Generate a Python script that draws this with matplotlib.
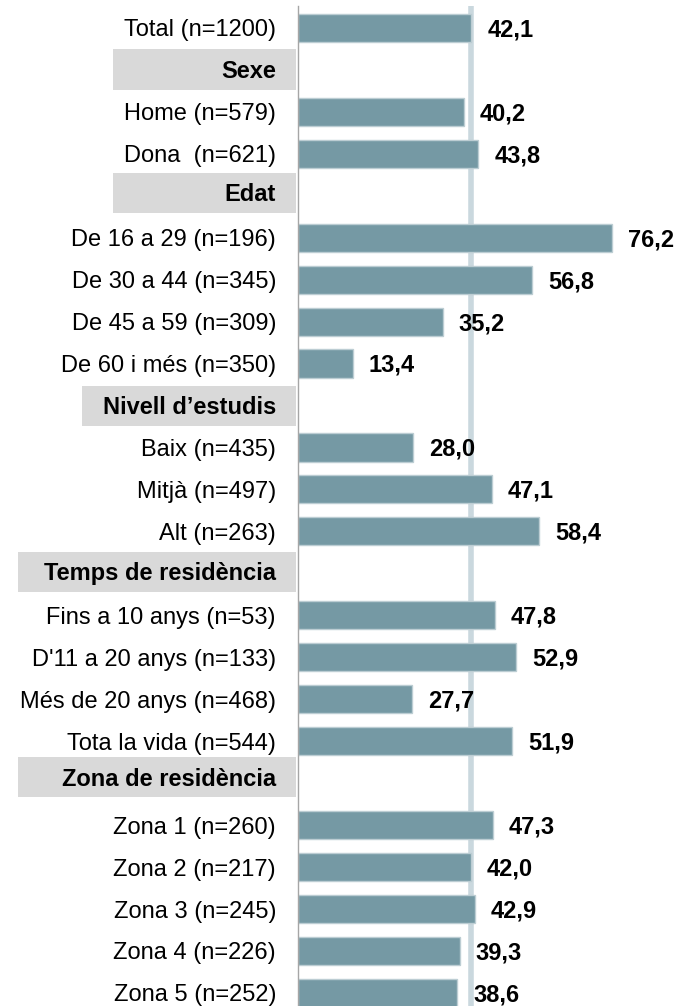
import matplotlib
matplotlib.use("Agg")
import matplotlib.pyplot as plt
from matplotlib.patches import Rectangle
from matplotlib.transforms import blended_transform_factory

plt.rcParams["font.family"] = ["Liberation Sans", "DejaVu Sans"]

# DATA
row_labels = [
    "Total (n=1200)",
    "Sexe",
    "Home (n=579)", "Dona  (n=621)",
    "Edat",
    "De 16 a 29 (n=196)", "De 30 a 44 (n=345)", "De 45 a 59 (n=309)", "De 60 i més (n=350)",
    "Nivell d’estudis",
    "Baix (n=435)", "Mitjà (n=497)", "Alt (n=263)",
    "Temps de residència",
    "Fins a 10 anys (n=53)", "D'11 a 20 anys (n=133)", "Més de 20 anys (n=468)", "Tota la vida (n=544)",
    "Zona de residència",
    "Zona 1 (n=260)", "Zona 2 (n=217)", "Zona 3 (n=245)", "Zona 4 (n=226)", "Zona 5 (n=252)",
]
# None marks a section header row
row_values = [
    42.1,
    None,
    40.2, 43.8,
    None,
    76.2, 56.8, 35.2, 13.4,
    None,
    28.0, 47.1, 58.4,
    None,
    47.8, 52.9, 27.7, 51.9,
    None,
    47.3, 42.0, 42.9, 39.3, 38.6,
]
total_value = 42.1

# LAYOUT (figure pixels)
W, H = 684, 1006
AX_LEFT_PX, AX_TOP_PX = 297.5, 6
LABEL_RIGHT_PX = 276
BOX_RIGHT_PX = 296
header_box_left_px = {"Sexe": 113, "Edat": 113, "Nivell d’estudis": 82,
                      "Temps de residència": 18, "Zona de residència": 18}
header_shift = {"Sexe": -0.01, "Edat": -0.07, "Nivell d’estudis": 0.01,
                "Temps de residència": -0.04, "Zona de residència": -0.14}

BAR_COLOR = "#7599a4"
BAR_EDGE = "#bccdd3"
REF_COLOR = "#cad8de"
BOX_COLOR = "#d9d9d9"
FS = 17
CAP_HALF_PX = FS * 100 / 72 * 0.716 / 2  # baseline offset so caps are centred on the row

fig = plt.figure(figsize=(W / 100, H / 100), dpi=100)
ax = fig.add_axes([AX_LEFT_PX / W, 0, (W - AX_LEFT_PX) / W, (H - AX_TOP_PX) / H])

n = len(row_labels)
ax.set_ylim(n - 1 + 0.31, -0.52)
ax.set_xlim(0, (W - AX_LEFT_PX) / 4.131)

ax.axvline(total_value, color=REF_COLOR, lw=4, zorder=1)

trans = blended_transform_factory(fig.transFigure, ax.transData)


def _label(x, y, s, xycoords, dx=0, **kw):
    ax.annotate(s, xy=(x, y), xycoords=xycoords, xytext=(dx, -CAP_HALF_PX),
                textcoords="offset pixels", va="baseline", fontsize=FS,
                color="black", annotation_clip=False, **kw)


for i, (lab, val) in enumerate(zip(row_labels, row_values)):
    if val is None:
        y = i + header_shift.get(lab, 0)
        x0 = header_box_left_px[lab] / W
        ax.add_patch(Rectangle((x0, y - 0.48), BOX_RIGHT_PX / W - x0, 0.96,
                               transform=trans, facecolor=BOX_COLOR,
                               edgecolor="none", clip_on=False, zorder=0))
        _label(LABEL_RIGHT_PX / W, y, lab, trans, ha="right", fontweight="bold")
    else:
        ax.barh(i, val, height=0.67, color=BAR_COLOR, edgecolor=BAR_EDGE,
                linewidth=1, zorder=2)
        _label(LABEL_RIGHT_PX / W, i, lab, trans, ha="right")
        _label(val, i, f"{val:.1f}".replace(".", ","), "data", dx=16,
               ha="left", fontweight="bold", zorder=3)

for side in ("top", "right", "bottom"):
    ax.spines[side].set_visible(False)
ax.spines["left"].set_color("#a6a6a6")
ax.spines["left"].set_linewidth(1)
ax.set_xticks([])
ax.set_yticks([])
ax.patch.set_alpha(0)

fig.savefig("out.png", dpi=100)
plt.close(fig)
